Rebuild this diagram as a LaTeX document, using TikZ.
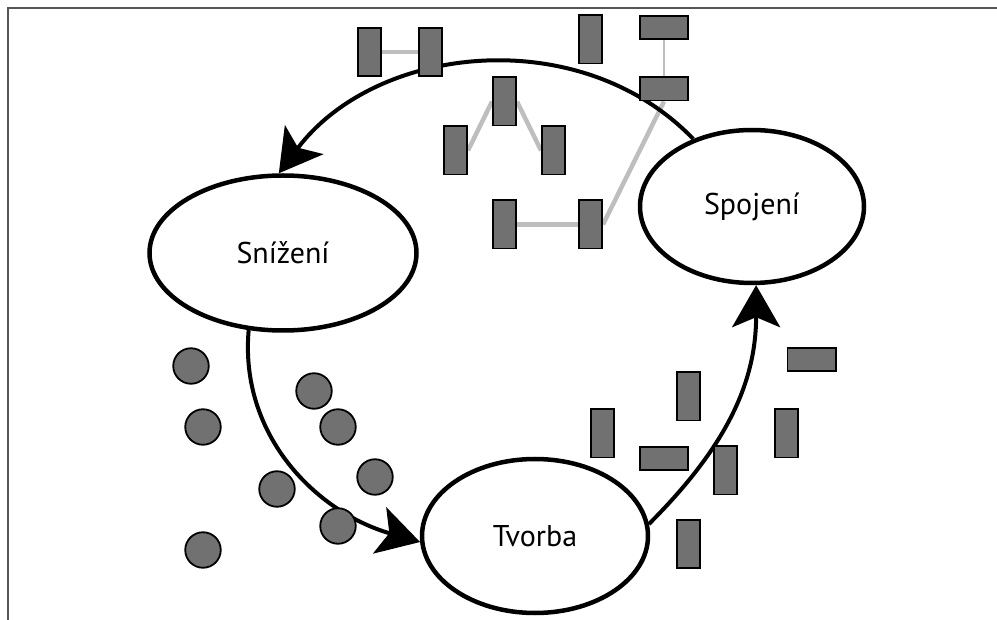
\documentclass[tikz,border=0pt]{standalone}
\usepackage{fontspec}
\setmainfont{PT Sans}
\usetikzlibrary{shapes.geometric,arrows.meta}
\definecolor{blockgray}{HTML}{717171}
\definecolor{linkgray}{HTML}{BEBEBE}
\definecolor{framegray}{HTML}{555555}
\pgfdeclarelayer{bonds}
\pgfsetlayers{bonds,main}
\begin{document}
\begin{tikzpicture}[x=1pt,y=1pt,
  stage/.style={ellipse, draw, line width=4.5pt, fill=white, inner sep=0pt,
    font=\fontsize{30}{36}\selectfont},
  cyclearrow/.style={line width=4pt, -{Stealth[length=42pt,width=48pt,inset=10pt]}},
  vbar/.style={rectangle, draw, line width=1.6pt, fill=blockgray,
    minimum width=23.4pt, minimum height=48.4pt, inner sep=0pt},
  hbar/.style={rectangle, draw, line width=1.6pt, fill=blockgray,
    minimum width=48.4pt, minimum height=23.4pt, inner sep=0pt},
  dot/.style={circle, draw, line width=1.8pt, fill=blockgray,
    minimum size=35.5pt, inner sep=0pt},
  link/.style={draw=linkgray, line width=4.5pt},
  thinlink/.style={draw=linkgray, line width=1.6pt},
]
\useasboundingbox (0,0) rectangle (997,-620);

% open frame: left and top edges only
\draw[framegray, line width=1.8pt] (8,-620) -- (8,-8) -- (997,-8);

% the three stages
\node[stage, minimum width=267pt, minimum height=155pt] (sniz) at (283,-253) {Snížení};
\node[stage, minimum width=224pt, minimum height=153pt] (spoj) at (752,-206.5) {Spojení};
\node[stage, minimum width=226pt, minimum height=154pt] (tvor) at (535,-536) {Tvorba};

% the cycle
\draw[cyclearrow] (spoj.131) to[out=134,in=53] (sniz.93);
\draw[cyclearrow] (sniz.246) to[out=265,in=164] (tvor.183);
\draw[cyclearrow] (tvor.6) to[out=45,in=270] (spoj.273);

% joined blocks (upper group)
\node[vbar] (R1) at (369.5,-52) {};
\node[vbar] (R2) at (430.5,-52) {};
\node[vbar] (R3) at (590.5,-39.5) {};
\node[hbar] (R4) at (664,-27.5) {};
\node[hbar] (R5) at (664,-89) {};
\node[vbar] (R6) at (504.5,-101.5) {};
\node[vbar] (R7) at (455.5,-150.5) {};
\node[vbar] (R8) at (553.5,-150.5) {};
\node[vbar] (R9) at (504.5,-224.5) {};
\node[vbar] (R10) at (590.5,-224.5) {};

% bonds between blocks, drawn beneath them
\begin{pgfonlayer}{bonds}
\path[link] (R1.east) -- (R2.west);
\path[thinlink] (R4.south) -- (R5.north);
\path[link] (R6.west) -- (R7.east);
\path[link] (R6.east) -- (R8.west);
\path[link] (R9.east) -- (R10.west);
\path[link] (R10.east) -- (R5.south);
\end{pgfonlayer}

% loose blocks (lower right)
\node[hbar] (B1) at (811.5,-359.5) {};
\node[vbar] (B2) at (688.5,-396.5) {};
\node[vbar] (B3) at (602.5,-433.5) {};
\node[vbar] (B4) at (786.5,-433.5) {};
\node[hbar] (B5) at (664,-458.5) {};
\node[vbar] (B6) at (725.5,-470.5) {};
\node[vbar] (B7) at (688.5,-544) {};

% loose dots (lower left)
\node[dot] (C1) at (191,-366) {};
\node[dot] (C2) at (203,-427) {};
\node[dot] (C3) at (314,-391) {};
\node[dot] (C4) at (338,-427) {};
\node[dot] (C5) at (375,-477) {};
\node[dot] (C6) at (277,-489) {};
\node[dot] (C7) at (338,-526) {};
\node[dot] (C8) at (203,-550) {};
\end{tikzpicture}
\end{document}
